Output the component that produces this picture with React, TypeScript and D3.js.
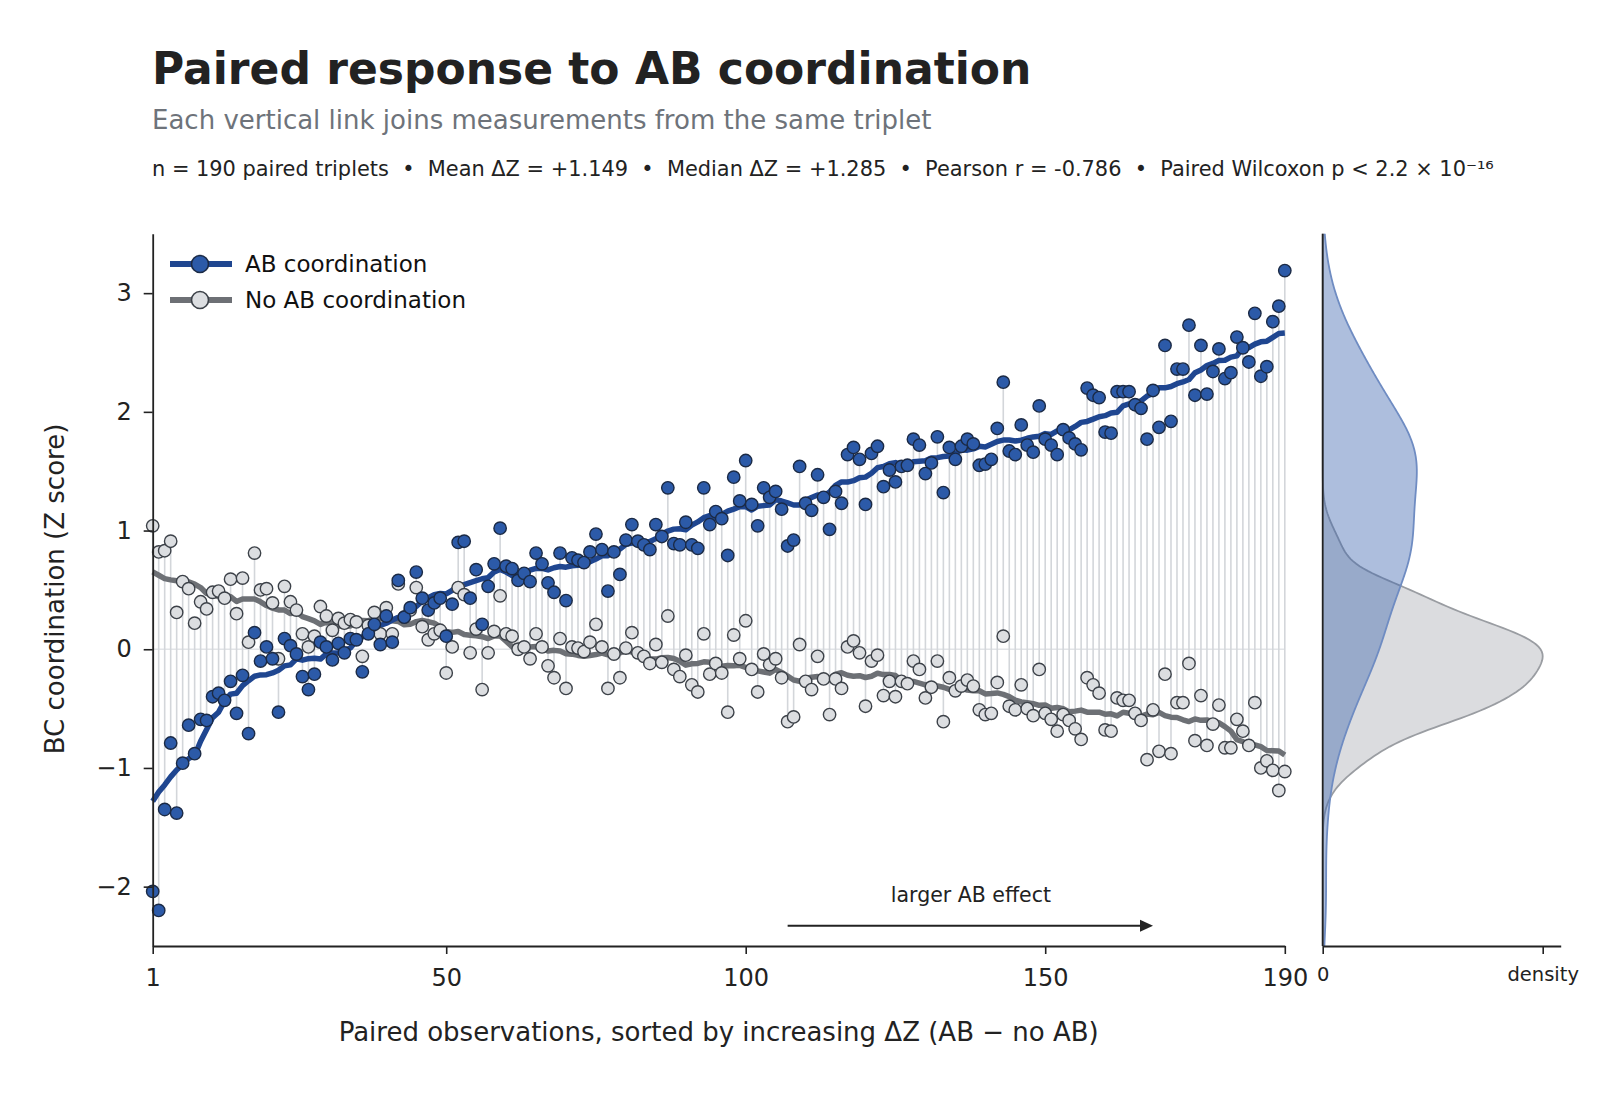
// @ts-nocheck
import React from 'react'
import * as d3 from 'd3'

// BC coordination (Z score) per paired triplet, sorted by increasing delta Z
const abValues = [
  -2.04, -2.2, -1.35, -0.79, -1.38, -0.96, -0.64, -0.88, -0.59, -0.6,
  -0.4, -0.37, -0.43, -0.27, -0.54, -0.22, -0.71, 0.14, -0.1, 0.02,
  -0.08, -0.53, 0.09, 0.03, -0.04, -0.23, -0.34, -0.21, 0.06, 0.02,
  -0.09, 0.05, -0.03, 0.09, 0.08, -0.19, 0.13, 0.21, 0.04, 0.28,
  0.06, 0.58, 0.27, 0.35, 0.65, 0.43, 0.33, 0.39, 0.43, 0.11,
  0.38, 0.9, 0.91, 0.43, 0.67, 0.21, 0.53, 0.72, 1.02, 0.7,
  0.68, 0.58, 0.64, 0.57, 0.81, 0.72, 0.56, 0.48, 0.81, 0.41,
  0.77, 0.75, 0.73, 0.82, 0.97, 0.84, 0.49, 0.82, 0.63, 0.92,
  1.05, 0.91, 0.88, 0.84, 1.05, 0.95, 1.36, 0.89, 0.88, 1.07,
  0.88, 0.85, 1.36, 1.05, 1.16, 1.1, 0.79, 1.45, 1.25, 1.59,
  1.22, 1.04, 1.36, 1.28, 1.33, 1.18, 0.87, 0.92, 1.54, 1.23,
  1.17, 1.47, 1.28, 1.01, 1.33, 1.23, 1.64, 1.7, 1.6, 1.22,
  1.65, 1.71, 1.37, 1.51, 1.41, 1.54, 1.55, 1.77, 1.72, 1.48,
  1.57, 1.79, 1.32, 1.7, 1.6, 1.71, 1.77, 1.73, 1.55, 1.56,
  1.6, 1.86, 2.25, 1.67, 1.64, 1.89, 1.72, 1.66, 2.05, 1.77,
  1.72, 1.64, 1.85, 1.78, 1.73, 1.68, 2.2, 2.14, 2.12, 1.83,
  1.82, 2.17, 2.17, 2.17, 2.06, 2.03, 1.77, 2.18, 1.87, 2.56,
  1.92, 2.36, 2.36, 2.73, 2.14, 2.56, 2.15, 2.34, 2.53, 2.28,
  2.33, 2.63, 2.54, 2.42, 2.83, 2.3, 2.38, 2.76, 2.89, 3.19,
]

const noAbValues = [
  1.04, 0.82, 0.83, 0.91, 0.31, 0.57, 0.51, 0.22, 0.4, 0.34,
  0.48, 0.49, 0.43, 0.59, 0.3, 0.6, 0.06, 0.81, 0.5, 0.51,
  0.39, -0.08, 0.53, 0.4, 0.33, 0.13, 0.02, 0.11, 0.36, 0.28,
  0.16, 0.26, 0.22, 0.25, 0.23, -0.06, 0.2, 0.31, 0.13, 0.35,
  0.13, 0.55, 0.27, 0.33, 0.52, 0.19, 0.08, 0.13, 0.16, -0.2,
  0.02, 0.52, 0.46, -0.03, 0.17, -0.34, -0.03, 0.15, 0.45, 0.13,
  0.11, 0.0, 0.02, -0.08, 0.13, 0.02, -0.14, -0.24, 0.09, -0.33,
  0.02, 0.01, -0.02, 0.06, 0.21, 0.02, -0.33, -0.04, -0.24, 0.01,
  0.14, -0.03, -0.06, -0.12, 0.04, -0.11, 0.28, -0.17, -0.23, -0.05,
  -0.3, -0.36, 0.13, -0.21, -0.12, -0.2, -0.53, 0.12, -0.08, 0.24,
  -0.17, -0.36, -0.04, -0.13, -0.08, -0.24, -0.61, -0.57, 0.04, -0.27,
  -0.34, -0.06, -0.25, -0.55, -0.25, -0.33, 0.02, 0.07, -0.03, -0.48,
  -0.1, -0.05, -0.39, -0.27, -0.4, -0.27, -0.29, -0.1, -0.17, -0.41,
  -0.32, -0.1, -0.61, -0.24, -0.35, -0.31, -0.26, -0.31, -0.51, -0.55,
  -0.54, -0.28, 0.11, -0.48, -0.51, -0.3, -0.5, -0.56, -0.17, -0.54,
  -0.59, -0.69, -0.55, -0.6, -0.67, -0.76, -0.24, -0.3, -0.37, -0.68,
  -0.69, -0.41, -0.43, -0.43, -0.54, -0.6, -0.93, -0.51, -0.86, -0.21,
  -0.88, -0.45, -0.45, -0.12, -0.77, -0.39, -0.81, -0.63, -0.47, -0.83,
  -0.83, -0.59, -0.69, -0.81, -0.45, -1.0, -0.94, -1.02, -1.19, -1.03,
]

const xTicks = [1, 50, 100, 150, 190]
const yTicks = [-2, -1, 0, 1, 2, 3]
const seriesNames = ['AB coordination', 'No AB coordination']

const title = 'Paired response to AB coordination'
const subtitle = 'Each vertical link joins measurements from the same triplet'
const statsLine =
  'n = 190 paired triplets  \u2022  Mean \u0394Z = +1.149  \u2022  Median \u0394Z = +1.285  \u2022  Pearson r = -0.786  \u2022  Paired Wilcoxon p < 2.2 \u00d7 10\u207b\u00b9\u2076'

const BLUE = '#2c5aa8'
const BLUE_LINE = '#1f4690'
const GREY_FILL = '#dcdee1'
const GREY_LINE = '#6d7075'
const FONT = "'DejaVu Sans', sans-serif"

// centred rolling mean, window of 15 pairs
const rolling = (values, half = 7) =>
  values.map((_, i) => d3.mean(values.slice(Math.max(0, i - half), i + half + 1)))

// gaussian kde with scott's bandwidth
const kde = (values, grid) => {
  const bw = d3.deviation(values) * Math.pow(values.length, -0.2)
  const k = 1 / (bw * Math.sqrt(2 * Math.PI) * values.length)
  return grid.map((y) => [y, k * d3.sum(values, (v) => Math.exp(-0.5 * ((y - v) / bw) ** 2))])
}

const App = () => {
  const svgRef = React.useRef(null)

  React.useEffect(() => {
    const svg = d3.select(svgRef.current)
    svg.selectAll('*').remove()

    const x = d3.scaleLinear().domain([1, 190]).range([152.7, 1284.8])
    const y = d3.scaleLinear().domain([-2.5, 3.5]).range([946, 233.8])
    const idx = abValues.map((_, i) => i + 1)

    // header
    svg.append('text').attr('x', 152).attr('y', 84).attr('font-size', 44)
      .attr('font-weight', 'bold').attr('fill', '#222').text(title)
    svg.append('text').attr('x', 152).attr('y', 129).attr('font-size', 26)
      .attr('fill', '#6e737a').text(subtitle)
    svg.append('text').attr('x', 152).attr('y', 176).attr('font-size', 20.9)
      .attr('fill', '#222').attr('xml:space', 'preserve').style('white-space', 'pre').text(statsLine)

    const g = svg.append('g')

    // zero reference
    g.append('line').attr('x1', x(1)).attr('x2', x(190)).attr('y1', y(0)).attr('y2', y(0))
      .attr('stroke', '#e2e4e7').attr('stroke-width', 1.6)

    // pair links
    g.selectAll('.link').data(idx).enter().append('line')
      .attr('x1', (d) => x(d)).attr('x2', (d) => x(d))
      .attr('y1', (d) => y(abValues[d - 1])).attr('y2', (d) => y(noAbValues[d - 1]))
      .attr('stroke', '#d3d6da').attr('stroke-width', 1.6)

    // trend lines
    const line = d3.line().x((d, i) => x(i + 1)).y((d) => y(d))
    g.append('path').attr('d', line(rolling(noAbValues))).attr('fill', 'none')
      .attr('stroke', GREY_LINE).attr('stroke-width', 5.5).attr('stroke-linejoin', 'round')
    g.append('path').attr('d', line(rolling(abValues))).attr('fill', 'none')
      .attr('stroke', BLUE_LINE).attr('stroke-width', 5.5).attr('stroke-linejoin', 'round')

    // points
    g.selectAll('.grey-pt').data(idx).enter().append('circle')
      .attr('cx', (d) => x(d)).attr('cy', (d) => y(noAbValues[d - 1])).attr('r', 6.2)
      .attr('fill', GREY_FILL).attr('stroke', '#3c4148').attr('stroke-width', 1.4)
    g.selectAll('.blue-pt').data(idx).enter().append('circle')
      .attr('cx', (d) => x(d)).attr('cy', (d) => y(abValues[d - 1])).attr('r', 6.2)
      .attr('fill', BLUE).attr('stroke', '#1b2a45').attr('stroke-width', 1.4)

    // axes
    const xAxisGroup = svg.append('g').attr('transform', 'translate(0,946)')
      .call(d3.axisBottom(x).tickValues(xTicks).tickSize(8).tickSizeOuter(0).tickPadding(15))
    xAxisGroup.select('.domain').attr('stroke', '#222').attr('stroke-width', 1.8)
    xAxisGroup.selectAll('line').attr('stroke', '#222').attr('stroke-width', 1.6)
    xAxisGroup.selectAll('text').attr('font-size', 24).attr('font-family', FONT).attr('fill', '#222')

    const yAxisGroup = svg.append('g').attr('transform', 'translate(152.7,0)')
      .call(d3.axisLeft(y).tickValues(yTicks).tickSize(9).tickSizeOuter(0).tickPadding(12)
        .tickFormat((v) => (v < 0 ? `\u2212${-v}` : `${v}`)))
    yAxisGroup.select('.domain').attr('stroke', '#222').attr('stroke-width', 1.8)
    yAxisGroup.selectAll('line').attr('stroke', '#222').attr('stroke-width', 1.6)
    yAxisGroup.selectAll('text').attr('font-size', 24).attr('font-family', FONT).attr('fill', '#222')

    svg.append('text').attr('x', 718.7).attr('y', 1041).attr('text-anchor', 'middle')
      .attr('font-size', 26).attr('fill', '#222')
      .text('Paired observations, sorted by increasing \u0394Z (AB \u2212 no AB)')
    svg.append('text').attr('transform', 'translate(55,589) rotate(-90)')
      .attr('text-anchor', 'middle').attr('dominant-baseline', 'central')
      .attr('font-size', 26).attr('fill', '#222').text('BC coordination (Z score)')

    // effect arrow
    const ay = y(-2.33)
    svg.append('line').attr('x1', x(107)).attr('x2', x(168) - 12).attr('y1', ay).attr('y2', ay)
      .attr('stroke', '#222').attr('stroke-width', 2)
    svg.append('path')
      .attr('d', `M${x(168)},${ay} L${x(168) - 13},${ay - 6} L${x(168) - 13},${ay + 6} Z`)
      .attr('fill', '#222')
    svg.append('text').attr('x', x(137.6)).attr('y', y(-2.13)).attr('text-anchor', 'middle')
      .attr('font-size', 20.5).attr('fill', '#222').text('larger AB effect')

    // legend
    const legend = svg.append('g')
    ;[
      [BLUE_LINE, BLUE, '#1b2a45'],
      [GREY_LINE, GREY_FILL, '#3c4148'],
    ].forEach(([lc, fc, sc], i) => {
      const ly = 264 + i * 36
      legend.append('line').attr('x1', 170).attr('x2', 232).attr('y1', ly).attr('y2', ly)
        .attr('stroke', lc).attr('stroke-width', 6)
      legend.append('circle').attr('cx', 200).attr('cy', ly).attr('r', 8.5)
        .attr('fill', fc).attr('stroke', sc).attr('stroke-width', 1.6)
      legend.append('text').attr('x', 245).attr('y', ly).attr('dominant-baseline', 'central')
        .attr('font-size', 23).attr('fill', '#111').text(seriesNames[i])
    })

    // marginal density panel
    const grid = d3.range(-2.5, 3.5001, 0.02)
    const dAb = kde(abValues, grid)
    const dNo = kde(noAbValues, grid)
    const peak = d3.max(dNo, (d) => d[1])
    const xd = d3.scaleLinear().domain([0, (peak * 238) / 220]).range([1322.7, 1560.7])
    const area = d3.area().y((d) => y(d[0])).x0(xd(0)).x1((d) => xd(d[1]))
    const edge = d3.line().y((d) => y(d[0])).x((d) => xd(d[1]))

    const dp = svg.append('g')
    dp.append('path').attr('d', area(dNo)).attr('fill', 'rgba(160,164,172,0.38)')
    dp.append('path').attr('d', edge(dNo)).attr('fill', 'none').attr('stroke', '#9a9da2').attr('stroke-width', 1.8)
    dp.append('path').attr('d', area(dAb)).attr('fill', 'rgba(60,100,175,0.42)')
    dp.append('path').attr('d', edge(dAb)).attr('fill', 'none').attr('stroke', '#6f8cc2').attr('stroke-width', 1.8)

    const dAxis = svg.append('g').attr('transform', 'translate(0,946)')
      .call(d3.axisBottom(xd).tickValues([0, peak]).tickSize(8).tickSizeOuter(0).tickPadding(13)
        .tickFormat((v) => (v === 0 ? '0' : 'density')))
    dAxis.select('.domain').attr('stroke', '#222').attr('stroke-width', 1.8)
    dAxis.selectAll('line').attr('stroke', '#222').attr('stroke-width', 1.6)
    dAxis.selectAll('text').attr('font-size', 19.5).attr('font-family', FONT).attr('fill', '#222')
    svg.append('line').attr('x1', 1322.7).attr('x2', 1322.7).attr('y1', 233.8).attr('y2', 946)
      .attr('stroke', '#222').attr('stroke-width', 1.8)
  }, [])

  return (
    <svg
      ref={svgRef}
      width={1600}
      height={1108}
      style={{ position: 'absolute', left: 0, top: 0, background: '#fff', fontFamily: FONT }}
    />
  )
}

export default App
